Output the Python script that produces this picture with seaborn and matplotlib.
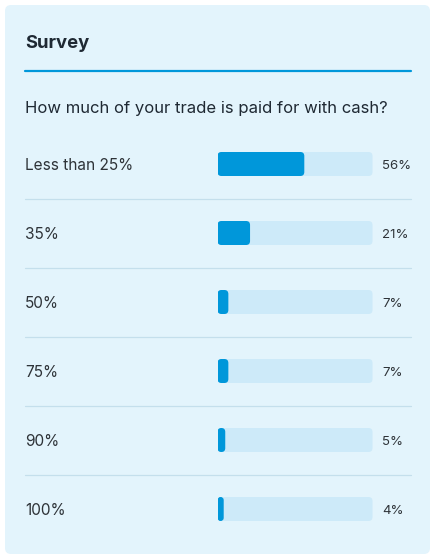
import matplotlib
matplotlib.use("Agg")
import matplotlib.pyplot as plt
import seaborn as sns
import pandas as pd
from matplotlib.patches import FancyBboxPatch
from matplotlib.lines import Line2D

title = "Survey"
question = "How much of your trade is paid for with cash?"
answers = ["Less than 25%", "35%", "50%", "75%", "90%", "100%"]
shares = [56, 21, 7, 7, 5, 4]

card_bg = "#e3f4fc"
track_col = "#cdeaf9"
fill_col = "#0097da"
sep_col = "#c4dfec"
text_col = "#1f2933"
label_col = "#2e3338"

sns.set_theme(style="white")
plt.rcParams['font.family'] = ['Inter', 'DejaVu Sans']

W, H = 436, 560
fig = plt.figure(figsize=(W / 100, H / 100), dpi=100)
fig.patch.set_facecolor("white")

# background axes in pixel coordinates
bg = fig.add_axes([0, 0, 1, 1])
bg.set_xlim(0, W)
bg.set_ylim(H, 0)
bg.axis("off")
bg.add_patch(FancyBboxPatch((5, 5), 425, 549, boxstyle="round,pad=0,rounding_size=6",
                            facecolor=card_bg, edgecolor="none"))
bg.text(25, 43, title, fontsize=13.3, fontweight="bold", color=text_col, va="center", ha="left")
bg.add_line(Line2D([25, 411], [71, 71], color=fill_col, lw=1.6))
bg.text(25, 108, question, fontsize=12, color=text_col, va="center", ha="left")

# bar axes: track spans x 217.5..372.5, rows 69 px apart centred at 164
x0, x1 = 217.5, 372.5
row = 69
top = 164 - row / 2
bottom = top + row * len(answers)
ax = fig.add_axes([x0 / W, 1 - bottom / H, (x1 - x0) / W, (bottom - top) / H])
ax.patch.set_alpha(0)

df = pd.DataFrame({"answer": answers, "share": shares, "full": [100] * len(answers)})
bar_h = 24 / row
sns.barplot(data=df, x="full", y="answer", color=track_col, width=bar_h, ax=ax, saturation=1)
sns.barplot(data=df, x="share", y="answer", color=fill_col, width=bar_h, ax=ax, saturation=1)
ax.set_xlim(0, 100)
ax.set_ylim(len(answers) - 0.5, -0.5)

# replace rectangles with rounded ones
px_x = 100 / (x1 - x0)
px_y = 1 / row
aspect = px_y / px_x
for p in list(ax.patches):
    x, y, w, h = p.get_x(), p.get_y(), p.get_width(), p.get_height()
    w_px = w / px_x
    r = min(4, w_px / 2) * px_x
    rp = FancyBboxPatch((x, y), w, h, boxstyle=f"round,pad=0,rounding_size={r}",
                        mutation_aspect=aspect, facecolor=p.get_facecolor(),
                        edgecolor="none")
    p.remove()
    ax.add_patch(rp)

for s in ax.spines.values():
    s.set_visible(False)
ax.set_xlabel("")
ax.set_ylabel("")
ax.set_xticks([])
ax.tick_params(axis="y", length=0, pad=(x0 - 25) * 0.72)
for lab in ax.get_yticklabels():
    lab.set_ha("left")
    lab.set_fontsize(11.1)
    lab.set_color(label_col)

trans = ax.get_yaxis_transform()
for i, v in enumerate(shares):
    ax.text((382 - x0) / (x1 - x0), i + 0.03, f"{v}%", transform=trans, fontsize=9.5,
            color=label_col, va="center", ha="left")

# separators between rows
for i in range(len(answers) - 1):
    ax.axhline(i + 0.5, xmin=(25 - x0) / (x1 - x0), xmax=(411 - x0) / (x1 - x0),
               color=sep_col, lw=0.9, clip_on=False)

fig.savefig("out.png", dpi=100, facecolor="white")
